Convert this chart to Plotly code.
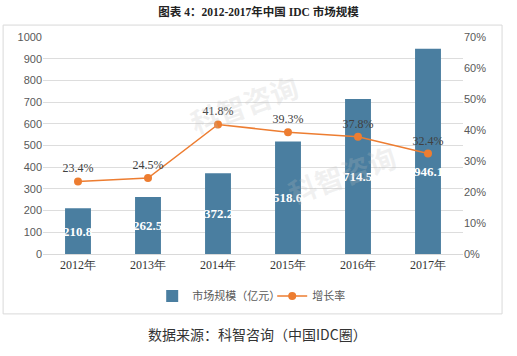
import plotly.graph_objects as go

years = ["2012年", "2013年", "2014年", "2015年", "2016年", "2017年"]
market_size = [210.8, 262.5, 372.2, 518.6, 714.5, 946.1]
growth_rate = [0.234, 0.245, 0.418, 0.393, 0.378, 0.324]

bar_labels = [f"{v:.1f}" for v in market_size]
rate_labels = [f"{v*100:.1f}%" for v in growth_rate]

BLUE = "#4A7EA0"
ORANGE = "#ED7D31"
GRAY = "#595959"

fig = go.Figure()
fig.add_trace(go.Bar(
    x=years, y=market_size, name="市场规模（亿元）",
    marker=dict(color=BLUE, line=dict(width=0)),
))
fig.add_trace(go.Scatter(
    x=years, y=growth_rate, name="增长率", yaxis="y2",
    mode="lines+markers+text",
    line=dict(color=ORANGE, width=1.5),
    marker=dict(color=ORANGE, size=8),
    text=rate_labels, textposition="top center",
    textfont=dict(family="Liberation Serif", size=12, color="#404040"),
    cliponaxis=False,
))

# bar value labels (middle of bar, capped so they stay clear of the line)
for yr, v, lab in zip(years, market_size, bar_labels):
    fig.add_annotation(x=yr, y=min(v / 2, 382), xref="x", yref="y", text=lab, showarrow=False,
                       font=dict(family="Liberation Serif", size=13, color="white", weight="bold"))

# watermark
for x, y in [(0.33, 0.88), (0.86, 0.18)]:
    fig.add_annotation(xref="paper", yref="paper", x=x, y=y, text="科智咨询",
                       showarrow=False, textangle=-20,
                       font=dict(family="Noto Sans CJK SC", size=28, color="rgba(190,190,190,0.22)", weight="bold"))

fig.add_annotation(xref="paper", yref="paper", x=0.51, y=-0.424, text="数据来源：科智咨询（中国IDC圈）",
                   showarrow=False, font=dict(family="Noto Sans CJK SC", size=14, color="#333333"))

fig.add_shape(type="rect", xref="paper", yref="paper",
              x0=-0.095, x1=1.093, y0=-0.276, y1=1.055,
              line=dict(color="#D9D9D9", width=1), layer="below")

fig.update_layout(
    width=517, height=356,
    margin=dict(l=43, r=54, t=37, b=102),
    paper_bgcolor="white", plot_bgcolor="white",
    title=dict(text="<b>图表 4：2012-2017年中国 IDC 市场规模</b>", x=0.5, xanchor="center",
               y=0.965, yanchor="middle",
               font=dict(family="Liberation Serif, Noto Sans CJK SC", size=11.5, color="#222222")),
    bargap=0.63,
    showlegend=True,
    legend=dict(orientation="h", x=0.26, xanchor="left", y=-0.194, yanchor="middle",
                font=dict(family="Noto Sans CJK SC", size=11, color=GRAY),
                itemwidth=30, traceorder="normal", entrywidth=75, entrywidthmode="pixels"),
    xaxis=dict(showgrid=False, showline=True, linecolor="#D9D9D9", ticks="",
               tickfont=dict(family="Liberation Serif", size=12, color="#333333")),
    yaxis=dict(range=[0, 1000], dtick=100, showgrid=True, gridcolor="#DDDDDD", gridwidth=1,
               zeroline=False, showline=False, ticks="", ticklen=0,
               tickfont=dict(family="Liberation Sans", size=11, color=GRAY)),
    yaxis2=dict(range=[0, 0.7], dtick=0.1, tickformat=".0%", overlaying="y", side="right",
                showgrid=False, zeroline=False, showline=False,
                tickfont=dict(family="Liberation Sans", size=11, color=GRAY)),
    font=dict(family="Noto Sans CJK SC"),
)

fig.write_html("out.html", config={"displayModeBar": False},
               post_script="document.body.style.margin='0';document.body.style.padding='0';")
